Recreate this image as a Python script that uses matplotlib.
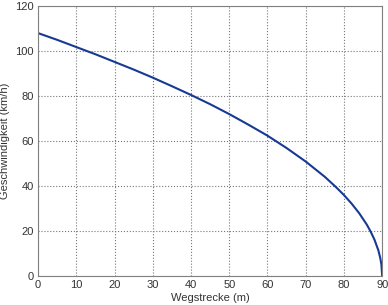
import matplotlib
matplotlib.use("Agg")
import matplotlib.pyplot as plt

# Werte
weg = [0, 5, 10, 15, 20, 25, 30, 35, 40, 45, 50, 55, 60, 65, 70, 75, 78,
       80, 82, 84, 86, 87, 88, 89, 89.5, 89.8, 90]
geschw = [108, 105.0, 101.8, 98.6, 95.2, 91.8, 88.2, 84.4, 80.5, 76.4, 72.0,
          67.3, 62.4, 56.9, 50.9, 44.1, 39.4, 36.0, 32.2, 27.9, 22.8, 19.7,
          16.1, 11.4, 8.0, 5.1, 0]

xticks = list(range(0, 91, 10))
yticks = list(range(0, 121, 20))

plt.rcParams['font.family'] = ['Liberation Sans', 'DejaVu Sans']
fig = plt.figure(figsize=(3.88, 3.05), dpi=100)
ax = fig.add_axes([0.098, 0.095, 0.887, 0.885])

ax.plot(weg, geschw, color='#163a94', linewidth=1.5)

ax.set_xlim(0, 90)
ax.set_ylim(0, 120)
ax.set_xticks(xticks)
ax.set_yticks(yticks)
ax.grid(True, linestyle=':', color='#777777', linewidth=0.8)
ax.tick_params(labelsize=8, length=0, pad=3, colors='#333333')
for s in ax.spines.values():
    s.set_color('#808080')
    s.set_linewidth(0.8)

ax.set_xlabel('Wegstrecke (m)', fontsize=8, color='#333333', labelpad=2)
ax.set_ylabel('Geschwindigkeit (km/h)', fontsize=8, color='#333333', labelpad=4)

fig.savefig('out.png', dpi=100)
